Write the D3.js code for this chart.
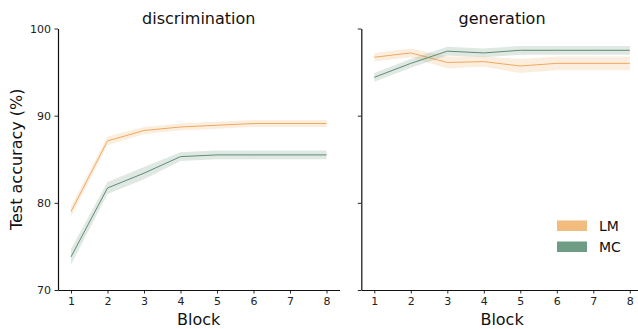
<!DOCTYPE html>
<html lang="en">
<head>
<meta charset="UTF-8">
<title>Test accuracy by block</title>
<script src="https://cdnjs.cloudflare.com/ajax/libs/d3/7.8.5/d3.min.js"></script>
<style>
  body { margin: 0; background: #fff; overflow: hidden; }
  svg { font-family: "DejaVu Sans", sans-serif; }
</style>
</head>
<body>
<div id="chart"></div>
<script>
// data
const blocks = [1, 2, 3, 4, 5, 6, 7, 8];
const yTicks = [70, 80, 90, 100];

const discLM = [79.0, 87.1, 88.3, 88.7, 88.9, 89.1, 89.1, 89.1];
const discLMErr = [0.6, 0.5, 0.4, 0.4, 0.4, 0.4, 0.4, 0.4];
const discMC = [73.8, 81.7, 83.4, 85.3, 85.5, 85.5, 85.5, 85.5];
const discMCErr = [0.9, 0.7, 0.7, 0.5, 0.5, 0.5, 0.5, 0.5];

const genLM = [96.7, 97.2, 96.1, 96.2, 95.7, 96.0, 96.0, 96.0];
const genLMErr = [0.5, 0.5, 0.7, 0.6, 0.8, 0.8, 0.8, 0.8];
const genMC = [94.4, 96.0, 97.4, 97.2, 97.5, 97.5, 97.5, 97.5];
const genMCErr = [0.5, 0.5, 0.5, 0.5, 0.5, 0.5, 0.5, 0.5];

const colors = { LM: "#f1a95e", MC: "#5e8c73" };
const legendColors = { LM: "#f3bc7f", MC: "#6f9c85" };

const W = 638, H = 329;
const svg = d3.select("#chart").append("svg")
  .attr("width", W).attr("height", H);

const plotTop = 28.5, plotBottom = 290;
const y = d3.scaleLinear().domain([70, 100]).range([plotBottom, plotTop]);

const panels = [
  { title: "discrimination", x0: 58, x1: 339.5, showLabels: true,
    series: [{ name: "LM", v: discLM, e: discLMErr }, { name: "MC", v: discMC, e: discMCErr }] },
  { title: "generation", x0: 361.3, x1: 642.8, showLabels: false,
    series: [{ name: "LM", v: genLM, e: genLMErr }, { name: "MC", v: genMC, e: genMCErr }] }
];

panels.forEach(p => {
  const x = d3.scaleLinear().domain([0.644, 8.356]).range([p.x0, p.x1]);
  const g = svg.append("g");

  p.series.forEach(s => {
    const pts = blocks.map((b, i) => ({ b, v: s.v[i], e: s.e[i] }));
    g.append("path")
      .datum(pts)
      .attr("fill", colors[s.name])
      .attr("fill-opacity", 0.2)
      .attr("d", d3.area().x(d => x(d.b)).y0(d => y(d.v - d.e)).y1(d => y(d.v + d.e)));
    g.append("path")
      .datum(pts)
      .attr("fill", "none")
      .attr("stroke", colors[s.name])
      .attr("stroke-width", 1)
      .attr("d", d3.line().x(d => x(d.b)).y(d => y(d.v)));
  });

  const xAxis = g.append("g")
    .attr("transform", `translate(0,${plotBottom})`)
    .call(d3.axisBottom(x).tickValues(blocks).tickSize(3.5).tickPadding(3.5).tickSizeOuter(0));
  const yAxis = g.append("g")
    .attr("transform", `translate(${p.x0},0)`)
    .call(d3.axisLeft(y).tickValues(yTicks).tickSize(3.5).tickPadding(3.5).tickSizeOuter(0)
      .tickFormat(p.showLabels ? d3.format("d") : () => ""));

  [xAxis, yAxis].forEach(a => {
    a.selectAll("text").attr("font-size", 11).attr("fill", "#222")
      .attr("font-family", "DejaVu Sans, sans-serif");
    a.select(".domain").attr("stroke", "#111").attr("stroke-width", 1.2);
    a.selectAll(".tick line").attr("stroke", "#111").attr("stroke-width", 0.9);
  });

  const cx = (p.x0 + p.x1) / 2;
  g.append("text")
    .attr("x", cx).attr("y", 23.5)
    .attr("text-anchor", "middle")
    .attr("font-size", 16).attr("fill", "#111")
    .text(p.title);

  g.append("text")
    .attr("x", cx).attr("y", 325)
    .attr("text-anchor", "middle")
    .attr("font-size", 16).attr("fill", "#111")
    .text("Block");
});

svg.append("text")
  .attr("transform", `translate(22,${(plotTop + plotBottom) / 2}) rotate(-90)`)
  .attr("text-anchor", "middle")
  .attr("font-size", 16).attr("fill", "#111")
  .text("Test accuracy (%)");

// legend
const legendNames = ["LM", "MC"];
const leg = svg.append("g").attr("transform", "translate(557,220.5)");
legendNames.forEach((n, i) => {
  leg.append("rect")
    .attr("x", 0).attr("y", i * 21)
    .attr("width", 30).attr("height", 10.5)
    .attr("fill", legendColors[n]);
  leg.append("text")
    .attr("x", 42).attr("y", i * 21 + 5.5)
    .attr("dominant-baseline", "central")
    .attr("font-size", 14).attr("fill", "#111")
    .text(n);
});
</script>
</body>
</html>
